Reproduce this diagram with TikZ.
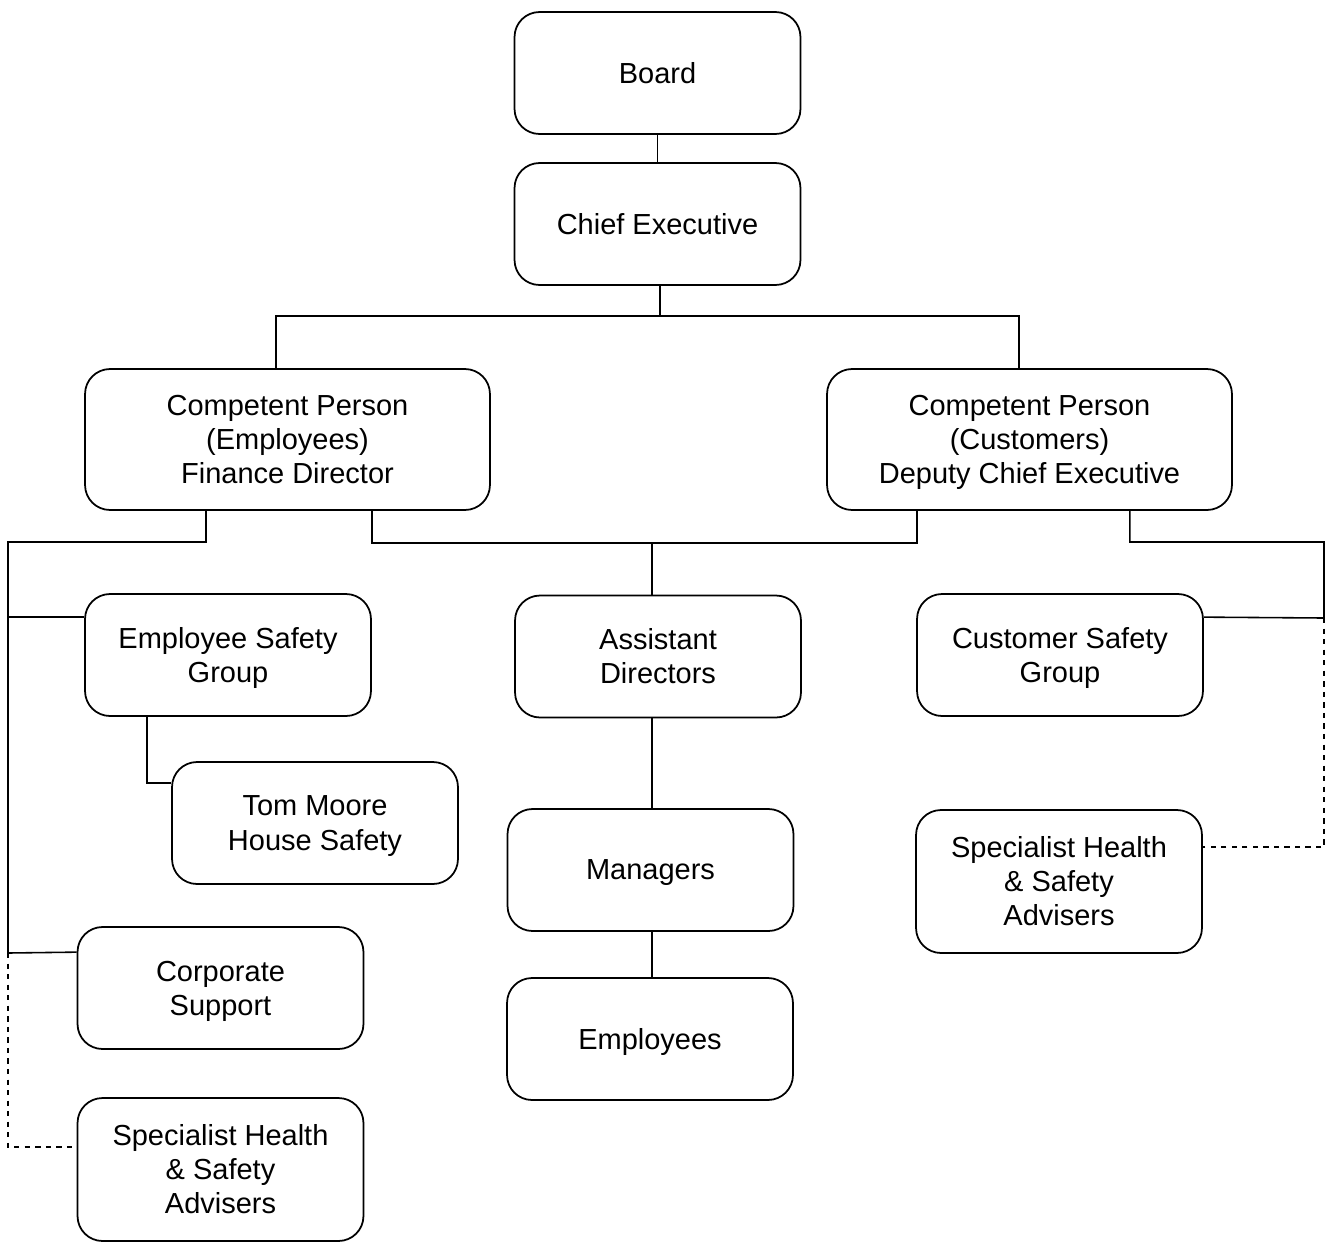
\documentclass[tikz,border=0pt]{standalone}
\usepackage{fontspec}
\setmainfont{Liberation Sans}
\usetikzlibrary{positioning}

\begin{document}
\begin{tikzpicture}[
    x=0.02cm, y=-0.02cm,
    every node/.style={font=\fontsize{16.5}{19.4}\selectfont},
    box/.style={draw, line width=1pt, rounded corners=0.5cm, align=center, inner sep=2pt, minimum width=5.72cm, minimum height=2.44cm},
    widebox/.style={box, minimum width=8.1cm, minimum height=2.82cm},
    tallbox/.style={box, minimum height=2.86cm},
    link/.style={line width=0.9pt},
    dotlink/.style={line width=0.9pt, dashed}
]
\useasboundingbox (0,0) rectangle (1328,1241);
\node[box] (board) at (657.5,73) {Board};
\node[box] (chief) at (657.5,224) {Chief Executive};
\node[widebox] (cpemp) at (287.5,439.5) {Competent Person\\(Employees)\\Finance Director};
\node[widebox] (cpcus) at (1029.5,439.5) {Competent Person\\(Customers)\\\smash{Deputy Chief Executive}};
\node[box] (esg) at (228,655) {Employee Safety\\\smash{Group}};
\node[box] (asst) at (658,656.5) {Assistant\\Directors};
\node[box] (csg) at (1060,655) {Customer Safety\\\smash{Group}};
\node[box] (tom) at (315,823) {Tom Moore\\\smash{House Safety}};
\node[box, text depth=0pt] (mgr) at (650.5,870) {Managers};
\node[tallbox] (spright) at (1059,881.5) {Specialist Health\\\& Safety\\Advisers};
\node[box] (corp) at (220.5,988) {Corporate\\\smash{Support}};
\node[box, text depth=0pt] (emp) at (650,1039) {Employees};
\node[tallbox] (spleft) at (220.5,1169.5) {Specialist Health\\\& Safety\\Advisers};
\coordinate (tbus) at (660,316);
\coordinate (lbus) at (8,542);
\coordinate (lend) at (8,953);
\coordinate (mbus) at (652,543);
\coordinate (rbus) at (1324,542);
\coordinate (rend) at (1324,618);
\draw[link] (board) -- (chief);
\draw[link] (chief.south -| tbus) -- (tbus);
\draw[link] ([xshift=-0.23cm]cpemp.north) |- (tbus) -| ([xshift=-0.21cm]cpcus.north);
\draw[link] ([xshift=2.44cm]cpemp.south west) |- (lbus) |- ([yshift=-0.48cm]esg.north west);
\draw[link] (lbus) -- (lend) -- ([yshift=-0.52cm]corp.north west);
\draw[dotlink] (lend) |- ([yshift=-1cm]spleft.north west);
\draw[link] ([xshift=1.26cm]esg.south west) |- ([yshift=-0.44cm]tom.north west);
\draw[link] ([xshift=-2.38cm]cpemp.south east) |- (mbus) -| ([xshift=1.82cm]cpcus.south west);
\draw[link] (mbus) -- (mbus |- asst.north);
\draw[link] (mbus |- asst.south) -- (mbus |- mgr.north);
\draw[link] (mbus |- mgr.south) -- (mbus |- emp.north);
\draw[link] ([xshift=-2.06cm]cpcus.south east) |- (rbus) -- (rend) -- ([yshift=-0.48cm]csg.north east);
\draw[dotlink] (rend) |- ([yshift=-0.76cm]spright.north east);
\end{tikzpicture}
\end{document}
